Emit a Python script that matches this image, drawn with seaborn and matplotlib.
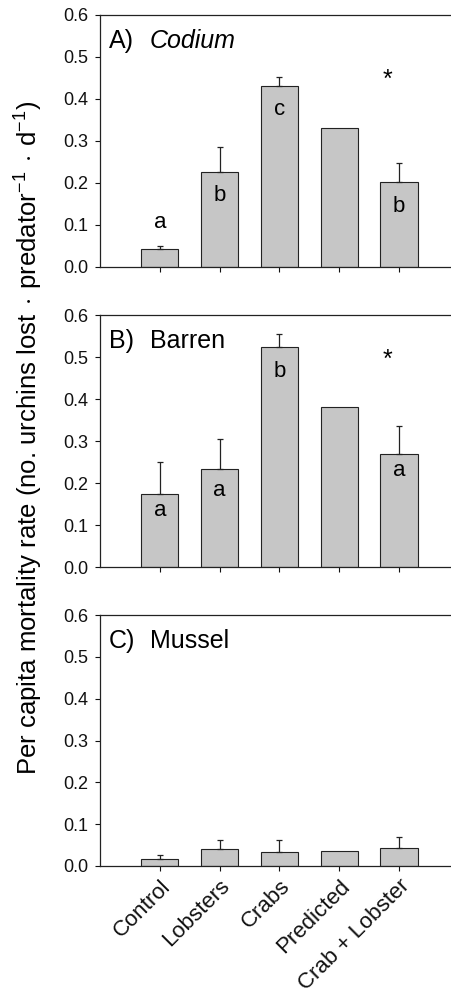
import matplotlib
matplotlib.use("Agg")
import matplotlib.pyplot as plt
import seaborn as sns
import pandas as pd
import numpy as np

treatments = ["Control", "Lobsters", "Crabs", "Predicted", "Crab + Lobster"]

codium_mean = [0.042, 0.227, 0.431, 0.330, 0.203]
codium_err = [0.007, 0.058, 0.022, 0.0, 0.045]
codium_letters = ["a", "b", "c", "", "b"]
codium_letter_y = [0.105, 0.17, 0.374, None, 0.144]

barren_mean = [0.175, 0.234, 0.525, 0.380, 0.269]
barren_err = [0.076, 0.070, 0.030, 0.0, 0.067]
barren_letters = ["a", "a", "b", "", "a"]
barren_letter_y = [0.135, 0.183, 0.465, None, 0.23]

mussel_mean = [0.017, 0.040, 0.033, 0.037, 0.043]
mussel_err = [0.010, 0.023, 0.030, 0.0, 0.027]

panels = [
    ("A)", "Codium", True, codium_mean, codium_err, codium_letters, codium_letter_y, 0.445),
    ("B)", "Barren", False, barren_mean, barren_err, barren_letters, barren_letter_y, 0.493),
    ("C)", "Mussel", False, mussel_mean, mussel_err, None, None, None),
]

sns.set_style("ticks")
plt.rcParams["font.family"] = ["Liberation Sans", "DejaVu Sans"]
plt.rcParams["mathtext.fontset"] = "custom"
plt.rcParams["mathtext.rm"] = "Liberation Sans"
plt.rcParams["text.color"] = "black"

fig = plt.figure(figsize=(4.51, 9.94), dpi=100)

W, H = 451, 994
left = 100 / W
width = 1.0 - left
tops = [15, 315, 615]
bottoms = [267, 567, 866]

for i, (tag, name, italic, mean, err, letters, letter_y, star_y) in enumerate(panels):
    ax = fig.add_axes([left, 1 - bottoms[i] / H, width, (bottoms[i] - tops[i]) / H])
    df = pd.DataFrame({"treatment": treatments, "rate": mean})
    sns.barplot(data=df, x="treatment", y="rate", ax=ax, color="#c6c6c6",
                edgecolor="#222222", linewidth=0.8, width=0.62, saturation=1)
    x = np.arange(len(treatments))
    e = np.array(err)
    mask = e > 0
    ax.errorbar(x[mask], np.array(mean)[mask],
                yerr=[np.zeros(mask.sum()), e[mask]],
                fmt="none", ecolor="#222222", elinewidth=0.9, capsize=2.5, capthick=0.9)

    if letters:
        for xi, (lab, ly) in enumerate(zip(letters, letter_y)):
            if lab:
                ax.text(xi, ly, lab, ha="center", va="center", fontsize=16)
        ax.text(3.8, star_y, "*", ha="center", va="center", fontsize=18)

    ax.text(0.026, 0.895, tag, transform=ax.transAxes, fontsize=18,
            va="center", ha="left")
    ax.text(0.142, 0.895, name, transform=ax.transAxes, fontsize=18,
            va="center", ha="left", style="italic" if italic else "normal")

    ax.set_ylim(0, 0.6)
    ax.set_xlim(-1, 4.87)
    ax.set_yticks([0.0, 0.1, 0.2, 0.3, 0.4, 0.5, 0.6])
    ax.set_yticklabels([f"{v:.1f}" for v in ax.get_yticks()])
    ax.tick_params(axis="both", direction="out", length=3.5, width=0.8,
                   labelsize=13, colors="#111111")
    ax.tick_params(axis="y", pad=5)
    ax.set_xlabel("")
    ax.set_ylabel("")
    ax.spines["right"].set_visible(False)
    for s in ["left", "top", "bottom"]:
        ax.spines[s].set_linewidth(0.9)
        ax.spines[s].set_color("#222222")
    if i < 2:
        ax.set_xticklabels([])
    else:
        ax.set_xticklabels(treatments, rotation=45, ha="right",
                           rotation_mode="anchor", fontsize=16)

fig.text(28 / W, 1 - 438 / H,
         r"Per capita mortality rate (no. urchins lost$\,\cdot\,$predator$^{-1}$$\,\cdot\,$d$^{-1}$)",
         rotation=90, ha="center", va="center", fontsize=18.5)

fig.savefig("out.png", dpi=100)
